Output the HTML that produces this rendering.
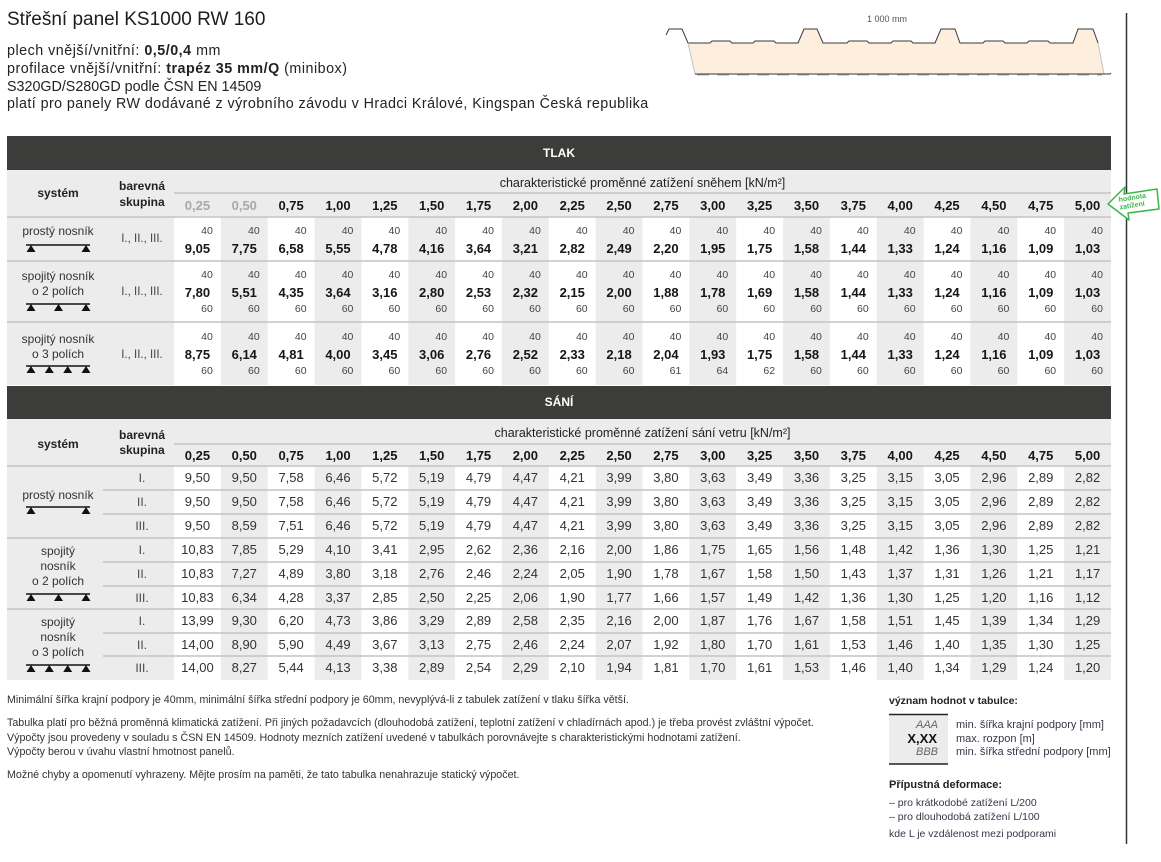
<!DOCTYPE html>
<html lang="cs">
<head>
<meta charset="utf-8">
<style>
*{margin:0;padding:0;box-sizing:border-box}
html,body{width:1161px;height:862px;overflow:hidden;background:#fff}
body{position:relative;font-family:"Liberation Sans","DejaVu Sans",sans-serif;color:#222}
.a{position:absolute;white-space:nowrap}
.g{position:absolute;left:174px;width:937px;display:grid;grid-template-columns:repeat(20,1fr)}
.g>div{position:relative;height:100%}
.g i,.g u{position:absolute;right:8px;font-style:normal;text-decoration:none;font-size:10.5px;line-height:1;color:#444}
.g b{position:absolute;left:0;right:0;text-align:center;font-size:13px;line-height:1;color:#161616;font-weight:bold}
.t1 i{top:9px}.t1 b{top:25px}
.t2 i{top:8.5px}.t2 b{top:25px}.t2 u{top:42.5px}
.t3 i{top:10px}.t3 b{top:26px}.t3 u{top:43.5px}
.h>div{text-align:center;font-size:13px;font-weight:bold;line-height:1;color:#161616}
.s{height:24px}
.s>div{text-align:center;font-size:13px;line-height:24px;color:#333}
.lb{position:absolute;left:7px;width:102px;text-align:center;font-size:12px;line-height:15px;color:#333}
.sk{position:absolute;left:106px;width:72px;text-align:center;font-size:12px;line-height:15px;color:#444}
.hd{font-weight:bold;color:#222}
.ft{position:absolute;left:7px;font-size:10.7px;line-height:12px;color:#333;white-space:nowrap}
.lg{position:absolute;white-space:nowrap;font-size:11px;line-height:13px;color:#3b3346}
.hl{position:absolute;left:7px;font-size:14.3px;line-height:17.7px;color:#222;white-space:nowrap}
</style>
</head>
<body>
<svg width="1161" height="862" viewBox="0 0 1161 862" style="position:absolute;left:0;top:0">
<polygon fill="#fdeedd" points="688,43 710,43 712,41 730,41 732,43 753,43 755,41 774,41 776,43 798,43 804,29 817,29 823,43 847,43 849,41 867,41 869,43 891,43 893,41 911,41 913,43 935,43 941,29 955,29 960,43 983,43 985,41 1003,41 1005,43 1027,43 1029,41 1048,41 1050,43 1073,43 1078,29 1093,29 1098,43 1104,74 695,74"/>
<polyline fill="none" stroke="#3a3a3a" stroke-width="1" points="666,35 669,29 682,29 688,43 710,43 712,41 730,41 732,43 753,43 755,41 774,41 776,43 798,43 804,29 817,29 823,43 847,43 849,41 867,41 869,43 891,43 893,41 911,41 913,43 935,43 941,29 955,29 960,43 983,43 985,41 1003,41 1005,43 1027,43 1029,41 1048,41 1050,43 1073,43 1078,29 1093,29 1098,43"/>
<line x1="688" y1="43" x2="695" y2="74" stroke="#c4c4c4"/>
<line x1="1098" y1="43" x2="1104" y2="74" stroke="#c4c4c4"/>
<polyline fill="none" stroke="#3a3a3a" points="695,74 1104,74 1110,74 1111,73"/>
<line x1="697" y1="75" x2="1102" y2="75" stroke="#aaa" stroke-dasharray="12 8"/>
<text x="887" y="22" font-size="9" fill="#555" text-anchor="middle" font-family="Liberation Sans, sans-serif">1 000 mm</text>
<line x1="1126.5" y1="13" x2="1126.5" y2="844" stroke="#333" stroke-width="1.5"/>

<rect x="7" y="136" width="1104" height="34" fill="#3c3c3a"/>
<rect x="7" y="170" width="1104" height="215" fill="#ececec"/>
<g fill="#fff">
<rect x="174" y="217" width="46.85" height="168"/>
<rect x="267.7" y="217" width="46.85" height="168"/>
<rect x="361.4" y="217" width="46.85" height="168"/>
<rect x="455.1" y="217" width="46.85" height="168"/>
<rect x="548.8" y="217" width="46.85" height="168"/>
<rect x="642.5" y="217" width="46.85" height="168"/>
<rect x="736.2" y="217" width="46.85" height="168"/>
<rect x="829.9" y="217" width="46.85" height="168"/>
<rect x="923.6" y="217" width="46.85" height="168"/>
<rect x="1017.3" y="217" width="46.85" height="168"/>
</g>
<g stroke="#c4c4c4" stroke-width="1.5">
<line x1="174" y1="193" x2="1111" y2="193"/>
<line x1="7" y1="217" x2="1111" y2="217"/>
<line x1="7" y1="261" x2="1111" y2="261"/>
<line x1="7" y1="322" x2="1111" y2="322"/>
</g>

<rect x="7" y="386" width="1104" height="33" fill="#3c3c3a"/>
<rect x="7" y="419" width="1104" height="261" fill="#ececec"/>
<g fill="#fff">
<rect x="174" y="466" width="46.85" height="214"/>
<rect x="267.7" y="466" width="46.85" height="214"/>
<rect x="361.4" y="466" width="46.85" height="214"/>
<rect x="455.1" y="466" width="46.85" height="214"/>
<rect x="548.8" y="466" width="46.85" height="214"/>
<rect x="642.5" y="466" width="46.85" height="214"/>
<rect x="736.2" y="466" width="46.85" height="214"/>
<rect x="829.9" y="466" width="46.85" height="214"/>
<rect x="923.6" y="466" width="46.85" height="214"/>
<rect x="1017.3" y="466" width="46.85" height="214"/>
</g>
<g stroke="#c4c4c4" stroke-width="1.5">
<line x1="174" y1="444" x2="1111" y2="444"/>
<line x1="7" y1="466" x2="1111" y2="466"/>
<line x1="103" y1="490" x2="1111" y2="490"/>
<line x1="103" y1="514" x2="1111" y2="514"/>
<line x1="7" y1="538" x2="1111" y2="538"/>
<line x1="103" y1="562" x2="1111" y2="562"/>
<line x1="103" y1="586" x2="1111" y2="586"/>
<line x1="7" y1="609" x2="1111" y2="609"/>
<line x1="103" y1="633" x2="1111" y2="633"/>
<line x1="103" y1="656" x2="1111" y2="656"/>
</g>

<g stroke="#111" stroke-width="1.5">
<line x1="26" y1="245" x2="90" y2="245"/>
<line x1="26" y1="304" x2="90" y2="304"/>
<line x1="26" y1="366" x2="90" y2="366"/>
<line x1="26" y1="507" x2="90" y2="507"/>
<line x1="26" y1="594" x2="90" y2="594"/>
<line x1="26" y1="665" x2="90" y2="665"/>
</g>
<g fill="#111">
<path d="M26.5,252 L31,245 L35.5,252Z M81.5,252 L86,245 L90.5,252Z"/>
<path d="M26.5,311 L31,304 L35.5,311Z M54,311 L58.5,304 L63,311Z M81.5,311 L86,304 L90.5,311Z"/>
<path d="M26.5,373 L31,366 L35.5,373Z M44.8,373 L49.3,366 L53.8,373Z M63.2,373 L67.7,366 L72.2,373Z M81.5,373 L86,366 L90.5,373Z"/>
<path d="M26.5,514 L31,507 L35.5,514Z M81.5,514 L86,507 L90.5,514Z"/>
<path d="M26.5,601 L31,594 L35.5,601Z M54,601 L58.5,594 L63,601Z M81.5,601 L86,594 L90.5,601Z"/>
<path d="M26.5,672 L31,665 L35.5,672Z M44.8,672 L49.3,665 L53.8,672Z M63.2,672 L67.7,665 L72.2,672Z M81.5,672 L86,665 L90.5,672Z"/>
</g>

<rect x="889" y="714" width="59" height="50" fill="#ececec"/>
<line x1="889" y1="714.5" x2="948" y2="714.5" stroke="#222" stroke-width="1.5"/>
<line x1="889" y1="764" x2="948" y2="764" stroke="#222" stroke-width="1.5"/>

<polygon points="1108,204 1125,187 1124,194 1157,189 1159,209 1128,213 1129,220" fill="#fff" stroke="#3db54a" stroke-width="1.5" stroke-linejoin="round"/>
<text x="1119" y="202" font-size="7" font-weight="bold" fill="#3db54a" font-family="Liberation Sans, sans-serif" transform="rotate(-9 1119 202)">hodnota</text>
<text x="1120" y="209.5" font-size="7" font-weight="bold" fill="#3db54a" font-family="Liberation Sans, sans-serif" transform="rotate(-9 1120 209.5)">zatížení</text>
</svg>

<div class="a" style="left:7px;top:8.4px;font-size:19px;line-height:24px;color:#1e1e1e">Střešní panel KS1000 RW 160</div>
<div class="hl" style="top:43.2px;letter-spacing:0.5px">plech vnější/vnitřní: <b>0,5/0,4</b> mm</div>
<div class="hl" style="top:60.9px;letter-spacing:0.5px">profilace vnější/vnitřní: <b>trapéz 35 mm/Q</b> (minibox)</div>
<div class="hl" style="top:78.6px">S320GD/S280GD podle ČSN EN 14509</div>
<div class="hl" style="top:96.3px;letter-spacing:0.43px">platí pro panely RW dodávané z výrobního závodu v Hradci Králové, Kingspan Česká republika</div>

<div class="a" style="left:7px;width:1104px;top:136px;line-height:34px;text-align:center;color:#fff;font-weight:bold;font-size:12px">TLAK</div>
<div class="lb hd" style="top:186.3px">systém</div>
<div class="sk hd" style="top:177.8px;line-height:16px">barevná<br>skupina</div>
<div class="a" style="left:174px;width:937px;top:176px;text-align:center;font-size:12.5px;line-height:14px;color:#222">charakteristické proměnné zatížení sněhem [kN/m²]</div>
<div class="g h" style="top:199px;height:14px">
<div style="color:#a8a8a8">0,25</div><div style="color:#a8a8a8">0,50</div><div>0,75</div><div>1,00</div><div>1,25</div><div>1,50</div><div>1,75</div><div>2,00</div><div>2,25</div><div>2,50</div><div>2,75</div><div>3,00</div><div>3,25</div><div>3,50</div><div>3,75</div><div>4,00</div><div>4,25</div><div>4,50</div><div>4,75</div><div>5,00</div>
</div>

<div class="lb" style="top:224.3px">prostý nosník</div>
<div class="sk" style="top:231.5px;font-size:11.5px">I., II., III.</div>
<div class="g t1" style="top:217px;height:44px">
<div><i>40</i><b>9,05</b></div><div><i>40</i><b>7,75</b></div><div><i>40</i><b>6,58</b></div><div><i>40</i><b>5,55</b></div><div><i>40</i><b>4,78</b></div><div><i>40</i><b>4,16</b></div><div><i>40</i><b>3,64</b></div><div><i>40</i><b>3,21</b></div><div><i>40</i><b>2,82</b></div><div><i>40</i><b>2,49</b></div><div><i>40</i><b>2,20</b></div><div><i>40</i><b>1,95</b></div><div><i>40</i><b>1,75</b></div><div><i>40</i><b>1,58</b></div><div><i>40</i><b>1,44</b></div><div><i>40</i><b>1,33</b></div><div><i>40</i><b>1,24</b></div><div><i>40</i><b>1,16</b></div><div><i>40</i><b>1,09</b></div><div><i>40</i><b>1,03</b></div>
</div>

<div class="lb" style="top:269.3px">spojitý nosník<br>o 2 polích</div>
<div class="sk" style="top:284.5px;font-size:11.5px">I., II., III.</div>
<div class="g t2" style="top:261px;height:61px">
<div><i>40</i><b>7,80</b><u>60</u></div><div><i>40</i><b>5,51</b><u>60</u></div><div><i>40</i><b>4,35</b><u>60</u></div><div><i>40</i><b>3,64</b><u>60</u></div><div><i>40</i><b>3,16</b><u>60</u></div><div><i>40</i><b>2,80</b><u>60</u></div><div><i>40</i><b>2,53</b><u>60</u></div><div><i>40</i><b>2,32</b><u>60</u></div><div><i>40</i><b>2,15</b><u>60</u></div><div><i>40</i><b>2,00</b><u>60</u></div><div><i>40</i><b>1,88</b><u>60</u></div><div><i>40</i><b>1,78</b><u>60</u></div><div><i>40</i><b>1,69</b><u>60</u></div><div><i>40</i><b>1,58</b><u>60</u></div><div><i>40</i><b>1,44</b><u>60</u></div><div><i>40</i><b>1,33</b><u>60</u></div><div><i>40</i><b>1,24</b><u>60</u></div><div><i>40</i><b>1,16</b><u>60</u></div><div><i>40</i><b>1,09</b><u>60</u></div><div><i>40</i><b>1,03</b><u>60</u></div>
</div>

<div class="lb" style="top:332.3px">spojitý nosník<br>o 3 polích</div>
<div class="sk" style="top:347.5px;font-size:11.5px">I., II., III.</div>
<div class="g t3" style="top:322px;height:63px">
<div><i>40</i><b>8,75</b><u>60</u></div><div><i>40</i><b>6,14</b><u>60</u></div><div><i>40</i><b>4,81</b><u>60</u></div><div><i>40</i><b>4,00</b><u>60</u></div><div><i>40</i><b>3,45</b><u>60</u></div><div><i>40</i><b>3,06</b><u>60</u></div><div><i>40</i><b>2,76</b><u>60</u></div><div><i>40</i><b>2,52</b><u>60</u></div><div><i>40</i><b>2,33</b><u>60</u></div><div><i>40</i><b>2,18</b><u>60</u></div><div><i>40</i><b>2,04</b><u>61</u></div><div><i>40</i><b>1,93</b><u>64</u></div><div><i>40</i><b>1,75</b><u>62</u></div><div><i>40</i><b>1,58</b><u>60</u></div><div><i>40</i><b>1,44</b><u>60</u></div><div><i>40</i><b>1,33</b><u>60</u></div><div><i>40</i><b>1,24</b><u>60</u></div><div><i>40</i><b>1,16</b><u>60</u></div><div><i>40</i><b>1,09</b><u>60</u></div><div><i>40</i><b>1,03</b><u>60</u></div>
</div>

<div class="a" style="left:7px;width:1104px;top:386px;line-height:33px;text-align:center;color:#fff;font-weight:bold;font-size:12px">SÁNÍ</div>
<div class="lb hd" style="top:436.6px">systém</div>
<div class="sk hd" style="top:428.3px">barevná<br>skupina</div>
<div class="a" style="left:174px;width:937px;top:426px;text-align:center;font-size:12.5px;line-height:14px;color:#222">charakteristické proměnné zatížení sání vetru [kN/m²]</div>
<div class="g h" style="top:449px;height:14px">
<div>0,25</div><div>0,50</div><div>0,75</div><div>1,00</div><div>1,25</div><div>1,50</div><div>1,75</div><div>2,00</div><div>2,25</div><div>2,50</div><div>2,75</div><div>3,00</div><div>3,25</div><div>3,50</div><div>3,75</div><div>4,00</div><div>4,25</div><div>4,50</div><div>4,75</div><div>5,00</div>
</div>

<div class="lb" style="top:488.3px">prostý nosník</div>
<div class="lb" style="top:544px">spojitý<br>nosník<br>o 2 polích</div>
<div class="lb" style="top:615px">spojitý<br>nosník<br>o 3 polích</div>

<div class="sk" style="top:466px;line-height:24px">I.</div>
<div class="sk" style="top:490px;line-height:24px">II.</div>
<div class="sk" style="top:514px;line-height:24px">III.</div>
<div class="sk" style="top:538px;line-height:24px">I.</div>
<div class="sk" style="top:562px;line-height:24px">II.</div>
<div class="sk" style="top:586px;line-height:24px">III.</div>
<div class="sk" style="top:609px;line-height:24px">I.</div>
<div class="sk" style="top:633px;line-height:24px">II.</div>
<div class="sk" style="top:656px;line-height:24px">III.</div>

<div class="g s" style="top:466px"><div>9,50</div><div>9,50</div><div>7,58</div><div>6,46</div><div>5,72</div><div>5,19</div><div>4,79</div><div>4,47</div><div>4,21</div><div>3,99</div><div>3,80</div><div>3,63</div><div>3,49</div><div>3,36</div><div>3,25</div><div>3,15</div><div>3,05</div><div>2,96</div><div>2,89</div><div>2,82</div></div>
<div class="g s" style="top:490px"><div>9,50</div><div>9,50</div><div>7,58</div><div>6,46</div><div>5,72</div><div>5,19</div><div>4,79</div><div>4,47</div><div>4,21</div><div>3,99</div><div>3,80</div><div>3,63</div><div>3,49</div><div>3,36</div><div>3,25</div><div>3,15</div><div>3,05</div><div>2,96</div><div>2,89</div><div>2,82</div></div>
<div class="g s" style="top:514px"><div>9,50</div><div>8,59</div><div>7,51</div><div>6,46</div><div>5,72</div><div>5,19</div><div>4,79</div><div>4,47</div><div>4,21</div><div>3,99</div><div>3,80</div><div>3,63</div><div>3,49</div><div>3,36</div><div>3,25</div><div>3,15</div><div>3,05</div><div>2,96</div><div>2,89</div><div>2,82</div></div>
<div class="g s" style="top:538px"><div>10,83</div><div>7,85</div><div>5,29</div><div>4,10</div><div>3,41</div><div>2,95</div><div>2,62</div><div>2,36</div><div>2,16</div><div>2,00</div><div>1,86</div><div>1,75</div><div>1,65</div><div>1,56</div><div>1,48</div><div>1,42</div><div>1,36</div><div>1,30</div><div>1,25</div><div>1,21</div></div>
<div class="g s" style="top:562px"><div>10,83</div><div>7,27</div><div>4,89</div><div>3,80</div><div>3,18</div><div>2,76</div><div>2,46</div><div>2,24</div><div>2,05</div><div>1,90</div><div>1,78</div><div>1,67</div><div>1,58</div><div>1,50</div><div>1,43</div><div>1,37</div><div>1,31</div><div>1,26</div><div>1,21</div><div>1,17</div></div>
<div class="g s" style="top:586px"><div>10,83</div><div>6,34</div><div>4,28</div><div>3,37</div><div>2,85</div><div>2,50</div><div>2,25</div><div>2,06</div><div>1,90</div><div>1,77</div><div>1,66</div><div>1,57</div><div>1,49</div><div>1,42</div><div>1,36</div><div>1,30</div><div>1,25</div><div>1,20</div><div>1,16</div><div>1,12</div></div>
<div class="g s" style="top:609px"><div>13,99</div><div>9,30</div><div>6,20</div><div>4,73</div><div>3,86</div><div>3,29</div><div>2,89</div><div>2,58</div><div>2,35</div><div>2,16</div><div>2,00</div><div>1,87</div><div>1,76</div><div>1,67</div><div>1,58</div><div>1,51</div><div>1,45</div><div>1,39</div><div>1,34</div><div>1,29</div></div>
<div class="g s" style="top:633px"><div>14,00</div><div>8,90</div><div>5,90</div><div>4,49</div><div>3,67</div><div>3,13</div><div>2,75</div><div>2,46</div><div>2,24</div><div>2,07</div><div>1,92</div><div>1,80</div><div>1,70</div><div>1,61</div><div>1,53</div><div>1,46</div><div>1,40</div><div>1,35</div><div>1,30</div><div>1,25</div></div>
<div class="g s" style="top:656px"><div>14,00</div><div>8,27</div><div>5,44</div><div>4,13</div><div>3,38</div><div>2,89</div><div>2,54</div><div>2,29</div><div>2,10</div><div>1,94</div><div>1,81</div><div>1,70</div><div>1,61</div><div>1,53</div><div>1,46</div><div>1,40</div><div>1,34</div><div>1,29</div><div>1,24</div><div>1,20</div></div>

<div class="ft" style="top:694px">Minimální šířka krajní podpory je 40mm, minimální šířka střední podpory je 60mm, nevyplývá-li z tabulek zatížení v tlaku šířka větší.</div>
<div class="ft" style="top:717px">Tabulka platí pro běžná proměnná klimatická zatížení. Při jiných požadavcích (dlouhodobá zatížení, teplotní zatížení v chladírnách apod.) je třeba provést zvláštní výpočet.</div>
<div class="ft" style="top:732px">Výpočty jsou provedeny v souladu s ČSN EN 14509. Hodnoty mezních zatížení uvedené v tabulkách porovnávejte s charakteristickými hodnotami zatížení.</div>
<div class="ft" style="top:746px">Výpočty berou v úvahu vlastní hmotnost panelů.</div>
<div class="ft" style="top:769px">Možné chyby a opomenutí vyhrazeny. Mějte prosím na paměti, že tato tabulka nenahrazuje statický výpočet.</div>

<div class="lg" style="left:889px;top:695px;font-size:10.5px;font-weight:bold;color:#222">význam hodnot v tabulce:</div>
<div class="lg" style="left:889px;width:49px;top:718.5px;text-align:right;font-style:italic;color:#666">AAA</div>
<div class="lg" style="left:889px;width:48px;top:731px;text-align:right;font-weight:bold;font-size:13px;line-height:15px;color:#111">X,XX</div>
<div class="lg" style="left:889px;width:49px;top:745.5px;text-align:right;font-style:italic;color:#666">BBB</div>
<div class="lg" style="left:956px;top:718.5px">min. šířka krajní podpory [mm]</div>
<div class="lg" style="left:956px;top:732.5px">max. rozpon [m]</div>
<div class="lg" style="left:956px;top:745.5px">min. šířka střední podpory [mm]</div>
<div class="lg" style="left:889px;top:778.5px;font-size:11px;font-weight:bold;color:#222">Přípustná deformace:</div>
<div class="lg" style="left:889px;top:796.5px;font-size:10.5px">– pro krátkodobé zatížení L/200</div>
<div class="lg" style="left:889px;top:810.5px;font-size:10.5px">– pro dlouhodobá zatížení L/100</div>
<div class="lg" style="left:889px;top:828px;font-size:10.5px">kde L je vzdálenost mezi podporami</div>
</body>
</html>
